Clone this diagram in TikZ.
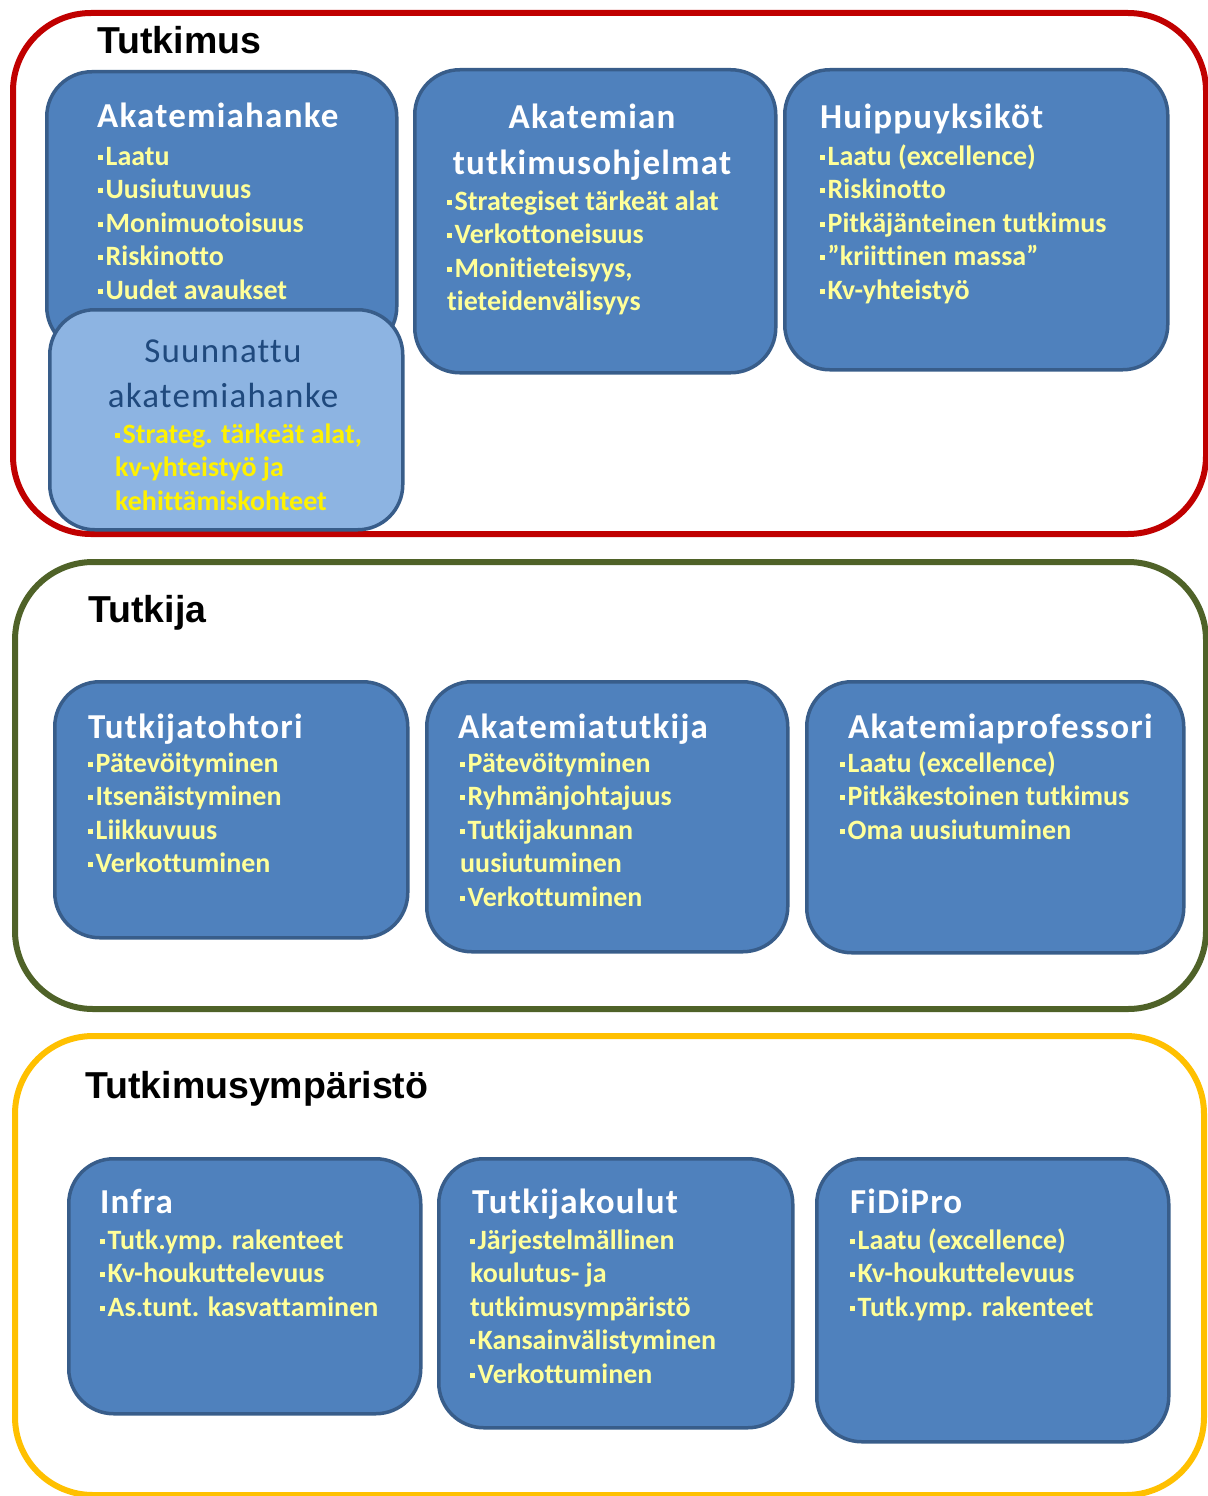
\documentclass[tikz,border=0pt]{standalone}
\usepackage{fontspec}
\setmainfont{Carlito}[Ligatures=NoCommon]
\newfontfamily\ttlfont{Carlito}[Ligatures=NoCommon,LetterSpace=3.5]
\newfontfamily\headfont{Liberation Sans}
\usetikzlibrary{positioning}

\definecolor{boxblue}{HTML}{4F81BD}
\definecolor{boxedge}{HTML}{385D8A}
\definecolor{lightbox}{HTML}{8DB4E2}
\definecolor{darktitle}{HTML}{1F497D}
\definecolor{paleyellow}{HTML}{FFFF99}
\definecolor{framered}{HTML}{C00000}
\definecolor{frameolive}{HTML}{4F6228}
\definecolor{framegold}{HTML}{FFC000}

\newcommand{\itm}{\raisebox{5.5pt}{\rule{5pt}{5pt}}\hspace{2.5pt}}
\newcommand{\lst}[1]{\begin{tabular}[t]{@{}l@{}}#1\end{tabular}}
\newcommand{\ctr}[1]{\begin{tabular}[t]{@{}c@{}}#1\end{tabular}}

\begin{document}
\begin{tikzpicture}[x=1pt,y=-1pt,
    frame/.style={line width=6pt,rounded corners=78pt,inner sep=0pt,anchor=north west},
    blk/.style={draw=boxedge,fill=boxblue,line width=3.5pt,rounded corners=45pt,
                inner sep=0pt,anchor=north west},
    lblk/.style={blk,fill=lightbox},
    hd/.style={font=\headfont\bfseries\fontsize{37.5}{40}\selectfont,inner sep=0pt,anchor=base west},
    ttl/.style={text=white,font=\ttlfont\bfseries\fontsize{35}{46}\selectfont,inner sep=0pt,anchor=base west},
    itms/.style={text=paleyellow,font=\bfseries\fontsize{28}{33.5}\selectfont,inner sep=0pt,anchor=base west}]
  \useasboundingbox (0,0) rectangle (1207,1496);

  \node[frame,draw=framered,minimum width=1193pt,minimum height=521pt]   (tutkimus) at (10,10) {};
  \node[frame,draw=frameolive,minimum width=1191pt,minimum height=447pt] (tutkija)  at (12,559) {};
  \node[frame,draw=framegold,minimum width=1189pt,minimum height=459pt]  (ymparisto) at (12,1033) {};

  \node[hd] (tutkimus-hd)  at (97,54)   {Tutkimus};
  \node[hd] (tutkija-hd)   at (88,622)  {Tutkija};
  \node[hd] (ymparisto-hd) at (85,1098) {Tutkimusympäristö};

  % Tutkimus
  \node[blk,minimum width=350pt,minimum height=280pt]  (ahanke)    at (45,70)  {};
  \node[lblk,minimum width=353pt,minimum height=220pt] (suunnattu) at (48,308) {};
  \node[blk,minimum width=361pt,minimum height=303pt]  (ohjelmat)  at (413,68) {};
  \node[blk,minimum width=383pt,minimum height=300pt]  (huippu)    at (783,68) {};

  \node[ttl]  (ahanke-t) at (97,127) {Akatemiahanke};
  \node[itms] (ahanke-l) at (98,165)
    {\lst{\itm Laatu\\ \itm Uusiutuvuus\\ \itm Monimuotoisuus\\ \itm Riskinotto\\ \itm Uudet avaukset}};

  \node[ttl,font=\ttlfont\fontsize{35}{45}\selectfont,text=darktitle,anchor=base] (suunnattu-t) at (223,362)
    {\ctr{Suunnattu\\ akatemiahanke}};
  \node[itms,text=yellow] (suunnattu-l) at (115,443)
    {\lst{\itm Strateg. tärkeät alat,\\ kv-yhteistyö ja\\ kehittämiskohteet}};

  \node[ttl,anchor=base] (ohjelmat-t) at (592,128) {\ctr{Akatemian\\ tutkimusohjelmat}};
  \node[itms] (ohjelmat-l) at (447,210)
    {\lst{\itm Strategiset tärkeät alat\\ \itm Verkottoneisuus\\ \itm Monitieteisyys,\\ tieteidenvälisyys}};

  \node[ttl]  (huippu-t) at (820,128) {Huippuyksiköt};
  \node[itms] (huippu-l) at (820,165)
    {\lst{\itm Laatu (excellence)\\ \itm Riskinotto\\ \itm Pitkäjänteinen tutkimus\\ \itm ”kriittinen massa”\\ \itm Kv-yhteistyö}};

  % Tutkija
  \node[blk,minimum width=353pt,minimum height=256pt] (tohtori)  at (53,680)  {};
  \node[blk,minimum width=361pt,minimum height=270pt] (atutkija) at (425,680) {};
  \node[blk,minimum width=377pt,minimum height=271pt] (aprof)    at (805,680) {};

  \node[ttl]  (tohtori-t) at (88,738) {Tutkijatohtori};
  \node[itms] (tohtori-l) at (88,772)
    {\lst{\itm Pätevöityminen\\ \itm Itsenäistyminen\\ \itm Liikkuvuus\\ \itm Verkottuminen}};

  \node[ttl]  (atutkija-t) at (458,738) {Akatemiatutkija};
  \node[itms] (atutkija-l) at (460,772)
    {\lst{\itm Pätevöityminen\\ \itm Ryhmänjohtajuus\\ \itm Tutkijakunnan\\ uusiutuminen\\ \itm Verkottuminen}};

  \node[ttl]  (aprof-t) at (848,738) {Akatemiaprofessori};
  \node[itms] (aprof-l) at (840,772)
    {\lst{\itm Laatu (excellence)\\ \itm Pitkäkestoinen tutkimus\\ \itm Oma uusiutuminen}};

  % Tutkimusympäristö
  \node[blk,minimum width=352pt,minimum height=255pt] (infra)   at (67,1157)  {};
  \node[blk,minimum width=354pt,minimum height=269pt] (koulut)  at (437,1157) {};
  \node[blk,minimum width=352pt,minimum height=283pt] (fidipro) at (815,1157) {};

  \node[ttl]  (infra-t) at (100,1213) {Infra};
  \node[itms] (infra-l) at (100,1249)
    {\lst{\itm Tutk.ymp. rakenteet\\ \itm Kv-houkuttelevuus\\ \itm As.tunt. kasvattaminen}};

  \node[ttl]  (koulut-t) at (472,1213) {Tutkijakoulut};
  \node[itms] (koulut-l) at (470,1249)
    {\lst{\itm Järjestelmällinen\\ koulutus- ja\\ tutkimusympäristö\\ \itm Kansainvälistyminen\\ \itm Verkottuminen}};

  \node[ttl]  (fidipro-t) at (850,1213) {FiDiPro};
  \node[itms] (fidipro-l) at (850,1249)
    {\lst{\itm Laatu (excellence)\\ \itm Kv-houkuttelevuus\\ \itm Tutk.ymp. rakenteet}};
\end{tikzpicture}
\end{document}
